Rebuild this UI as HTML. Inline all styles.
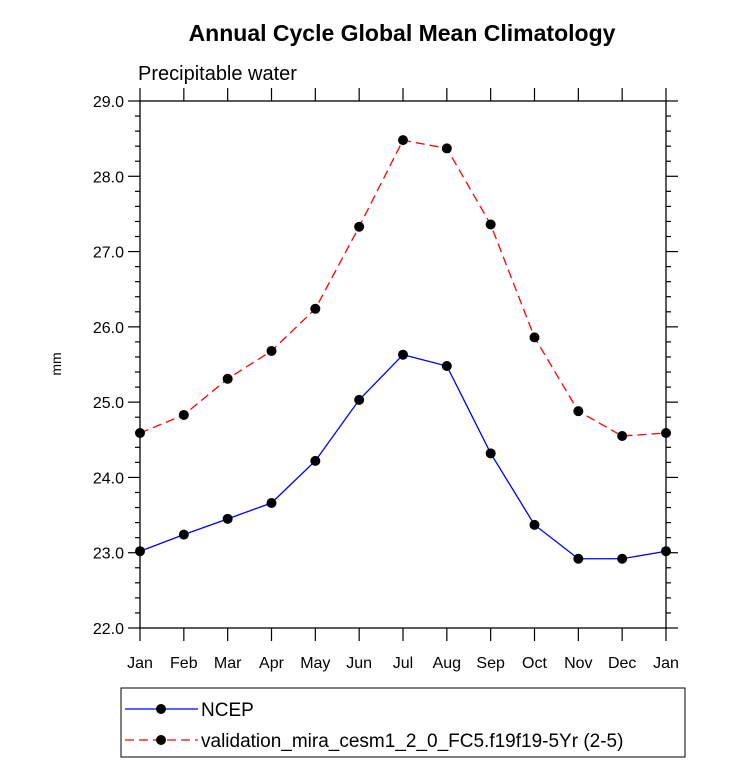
<!DOCTYPE html>
<html><head><meta charset="utf-8"><style>body{margin:0;background:#fff}svg{display:block}text{font-family:"Liberation Sans",sans-serif}</style></head>
<body>
<svg width="733" height="780" viewBox="0 0 733 780">
<g id="g"></g>
</svg>
<script>
const months=["Jan","Feb","Mar","Apr","May","Jun","Jul","Aug","Sep","Oct","Nov","Dec","Jan"];
const ncep=[23.02,23.24,23.45,23.66,24.22,25.03,25.63,25.48,24.32,23.37,22.92,22.92,23.02];
const model=[24.59,24.83,25.31,25.68,26.24,27.33,28.48,28.37,27.36,25.86,24.88,24.55,24.59];
const yTicks=[22,23,24,25,26,27,28,29];
const yTickLabels=["22.0","23.0","24.0","25.0","26.0","27.0","28.0","29.0"];
const L=140,R=666,T=101,B=628,ymin=22,ymax=29;
const X=i=>L+i*(R-L)/12;
const Y=v=>B-(v-ymin)*(B-T)/(ymax-ymin);
const ns="http://www.w3.org/2000/svg",g=document.getElementById('g');
function mk(t,a,txt){const e=document.createElementNS(ns,t);for(const k in a)e.setAttribute(k,a[k]);if(txt!=null)e.textContent=txt;g.appendChild(e);return e;}
let e;
e=mk('text',{x:402,y:41,'text-anchor':'middle','font-size':23,'font-weight':'bold'},'Annual Cycle Global Mean Climatology');


e=mk('text',{x:138,y:80,'font-size':20},'Precipitable water');


e=mk('text',{x:61,y:364,'text-anchor':'middle','font-size':14,transform:'rotate(-90 61 364)'},'mm');


e=mk('rect',{x:L,y:T,width:R-L,height:B-T,fill:'none',stroke:'#000','stroke-width':1.3});


for(let v=ymin;v<=ymax+1e-9;v+=0.2){const maj=Math.abs(v-Math.round(v))<1e-6;const len=maj?12:5;const y=Y(v);
 mk('line',{x1:L,x2:L-len,y1:y,y2:y,stroke:'#000','stroke-width':1.2});
 mk('line',{x1:R,x2:R+len,y1:y,y2:y,stroke:'#000','stroke-width':1.2});}
yTicks.forEach((v,i)=>{e=mk('text',{x:L-16,y:Y(v)+6,'text-anchor':'end','font-size':16},yTickLabels[i]);

});
months.forEach((m,i)=>{const x=X(i);
 mk('line',{x1:x,x2:x,y1:B,y2:B+13,stroke:'#000','stroke-width':1.2});
 mk('line',{x1:x,x2:x,y1:T,y2:T-13,stroke:'#000','stroke-width':1.2});
 e=mk('text',{x:x,y:668,'text-anchor':'middle','font-size':16},m);
 
 });
function series(d,col,dash,name){
 e=mk('polyline',{points:d.map((v,i)=>X(i)+','+Y(v)).join(' '),fill:'none',stroke:col,'stroke-width':1.3,'stroke-dasharray':dash});
 
 
 d.forEach((v,i)=>{e=mk('circle',{cx:X(i),cy:Y(v),r:5,fill:'#000'});
 
 });
}
series(ncep,'#0000ff','none','ncep');
series(model,'#ff0000','9 5','model');
e=mk('rect',{x:121,y:688,width:564,height:69,fill:'none',stroke:'#000','stroke-width':1});


mk('line',{x1:125,x2:198,y1:709,y2:709,stroke:'#0000ff','stroke-width':1.3});
mk('circle',{cx:161,cy:709,r:5,fill:'#000'});
e=mk('text',{x:201,y:716,'font-size':19},'NCEP');


mk('line',{x1:125,x2:198,y1:740,y2:740,stroke:'#ff0000','stroke-width':1.3,'stroke-dasharray':'9 5'});
mk('circle',{cx:161,cy:740,r:5,fill:'#000'});
e=mk('text',{x:201,y:747,'font-size':19},'validation_mira_cesm1_2_0_FC5.f19f19-5Yr (2-5)');


</script>
</body></html>
